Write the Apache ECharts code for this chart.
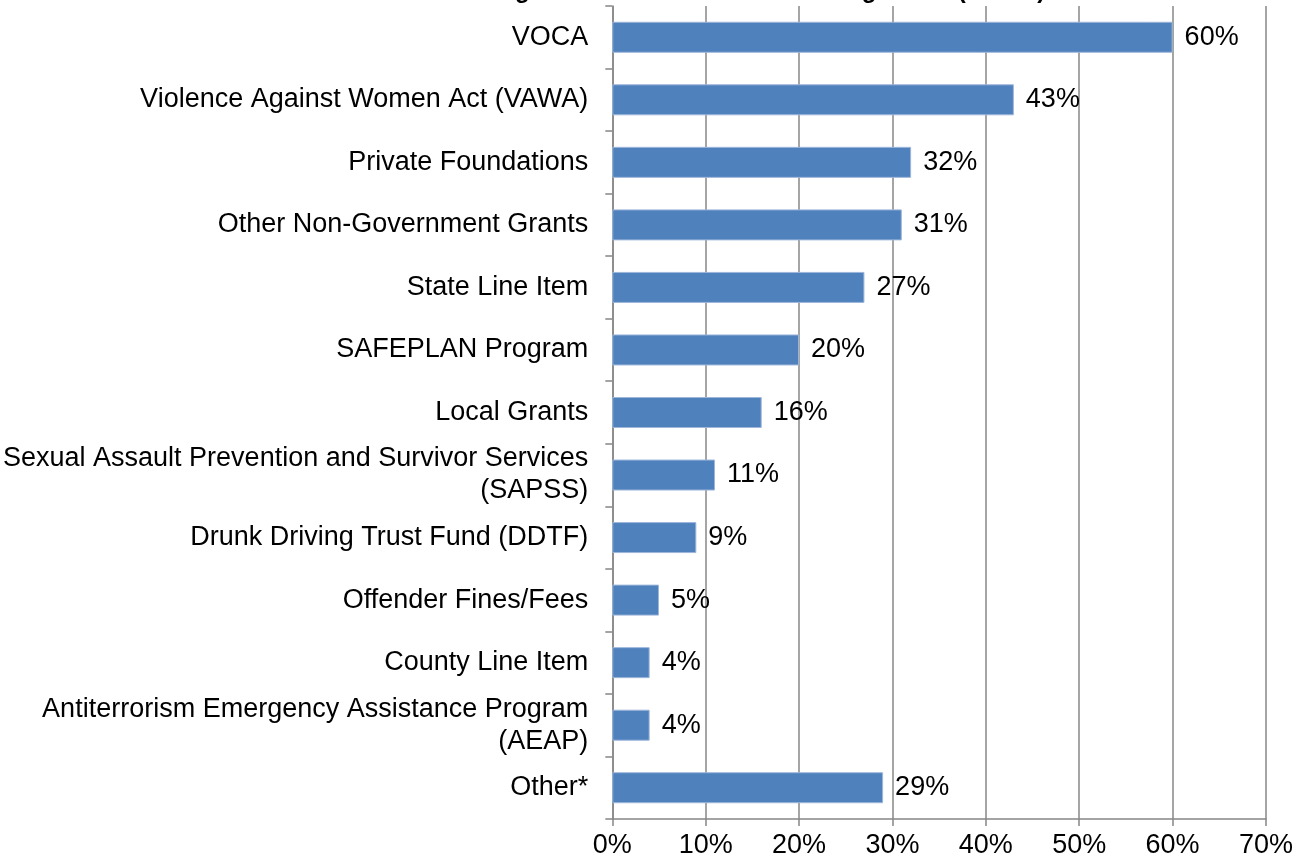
<!DOCTYPE html>
<html>
<head>
<meta charset="UTF-8">
<title>Funding Sources</title>
<style>
  html, body { margin: 0; padding: 0; background: #fff; }
  #chart { width: 1308px; height: 863px; }
</style>
</head>
<body>
<div id="chart"></div>
<script src="https://cdn.jsdelivr.net/npm/echarts@6/dist/echarts.min.js"></script>
<script>
// funding sources, top to bottom as in the picture
var sources = [
  'VOCA',
  'Violence Against Women Act (VAWA)',
  'Private Foundations',
  'Other Non-Government Grants',
  'State Line Item',
  'SAFEPLAN Program',
  'Local Grants',
  'Sexual Assault Prevention and Survivor Services\n(SAPSS)',
  'Drunk Driving Trust Fund (DDTF)',
  'Offender Fines/Fees',
  'County Line Item',
  'Antiterrorism Emergency Assistance Program\n(AEAP)',
  'Other*'
];
// percent of agencies
var percents = [60, 43, 32, 31, 27, 20, 16, 11, 9, 5, 4, 4, 29];
var xTicks = [0, 70, 10]; // min, max, step

var titleText = 'Funding Sources of Sexual Assault Agencies (N=100)';

var chart = echarts.init(document.getElementById('chart'));
var font = 'Arial, "Liberation Sans", sans-serif';
var gray = '#878787';

chart.setOption({
  animation: false,
  backgroundColor: '#fff',
  textStyle: { fontFamily: font },
  title: {
    // title is cut off by the top edge in the original
    text: titleText,
    left: 430,
    top: -26,
    textStyle: { fontSize: 24, fontWeight: 'bold', color: '#000', fontFamily: font }
  },
  grid: { left: 612, right: 42, top: 6, bottom: 44, containLabel: false },
  xAxis: {
    type: 'value',
    min: xTicks[0],
    max: xTicks[1],
    interval: xTicks[2],
    axisLine: { show: true, lineStyle: { color: gray, width: 1.5 } },
    axisTick: { show: true, length: 7, lineStyle: { color: gray, width: 1.5 } },
    splitLine: { show: true, lineStyle: { color: gray, width: 1.5 } },
    axisLabel: {
      formatter: '{value}%',
      fontSize: 27,
      color: '#000',
      margin: 13
    }
  },
  yAxis: {
    type: 'category',
    inverse: true,
    data: sources,
    axisLine: { show: true, lineStyle: { color: gray, width: 1.5 } },
    axisTick: { show: true, length: 7, alignWithLabel: false, lineStyle: { color: gray, width: 1.5 } },
    axisLabel: {
      fontSize: 27,
      color: '#000',
      margin: 24,
      lineHeight: 32,
      align: 'right'
    }
  },
  series: [{
    type: 'bar',
    data: percents,
    barWidth: 31,
    itemStyle: { color: '#4F81BD', borderColor: '#9db6da', borderWidth: 1 },
    label: {
      show: true,
      position: 'right',
      distance: 12,
      formatter: '{c}%',
      fontSize: 27,
      color: '#000'
    }
  }]
});
</script>
</body>
</html>
